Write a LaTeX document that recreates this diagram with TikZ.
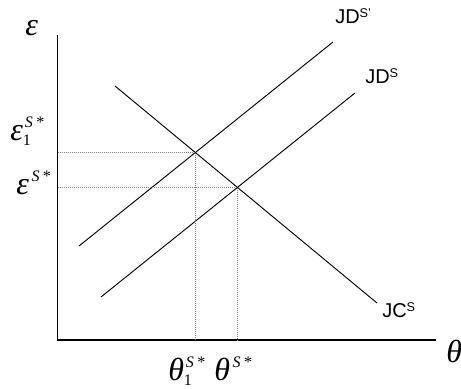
\documentclass[tikz,border=0pt]{standalone}
\usepackage{fontspec}
\setmainfont{Liberation Serif}
\setsansfont{Liberation Sans}
\usetikzlibrary{positioning}

\newcommand{\grk}[1]{{\fontsize{24}{24}\selectfont\itshape #1}}
\newcommand{\sstar}{\raisebox{9.5pt}{\fontsize{12}{12}\selectfont\itshape S\,*}}
\newcommand{\subone}{\raisebox{-4pt}{\fontsize{12}{12}\selectfont 1}}
\newcommand{\supS}[1]{\raisebox{4.5pt}{\fontsize{9.5}{9.5}\selectfont #1}}

\begin{document}
\begin{tikzpicture}[x=0.75pt, y=-0.75pt, axis/.style={line width=0.9pt}, curve/.style={line width=0.7pt}, guide/.style={densely dotted, line width=0.5pt, gray}, lab/.style={inner sep=0pt, anchor=base west}, curvelab/.style={lab, font=\sffamily\fontsize{15}{15}\selectfont}]
    \useasboundingbox (0,0) rectangle (461,389);

    % axes
    \coordinate (origin) at (57.5,340);
    \coordinate (ytop) at (57.5,35);
    \coordinate (xend) at (436,340);
    \draw[axis] (ytop) -- (origin) -- (xend);

    % JC and the two JD lines
    \coordinate (jcA) at (115,86);
    \coordinate (jcB) at (377,303);
    \coordinate (jdpA) at (79,246);
    \coordinate (jdpB) at (333,42);
    \coordinate (jdA) at (101,297);
    \coordinate (jdB) at (355,93);
    \draw[curve] (jcA) -- (jcB);
    \draw[curve] (jdpA) -- (jdpB);
    \draw[curve] (jdA) -- (jdB);

    % equilibria
    \coordinate (eqOne) at (195,152.5);
    \coordinate (eqZero) at (237.5,187.5);
    \draw[guide] (origin |- eqOne) -- (eqOne) -- (eqOne |- origin);
    \draw[guide] (origin |- eqZero) -- (eqZero) -- (eqZero |- origin);

    % labels
    \node[lab] (epsaxis) at (25,36) {\grk{ε}};
    \node[lab] (epsone) at (10,140) {\grk{ε}\rlap{\subone}\hspace{1.5pt}\sstar};
    \node[lab] (epszero) at (16,194) {\grk{ε}\hspace{2pt}\sstar};
    \node[lab] (thone) at (168,380) {\grk{θ}\rlap{\subone}\hspace{1.5pt}\sstar};
    \node[lab] (thzero) at (214,380) {\grk{θ}\hspace{2pt}\sstar};
    \node[lab] (thaxis) at (446,362) {\grk{θ}};

    \node[curvelab] (jdplab) at (335,23) {JD\supS{S'}};
    \node[curvelab] (jdlab) at (365,83) {JD\supS{S}};
    \node[curvelab] (jclab) at (382,317) {JC\supS{S}};
\end{tikzpicture}
\end{document}
